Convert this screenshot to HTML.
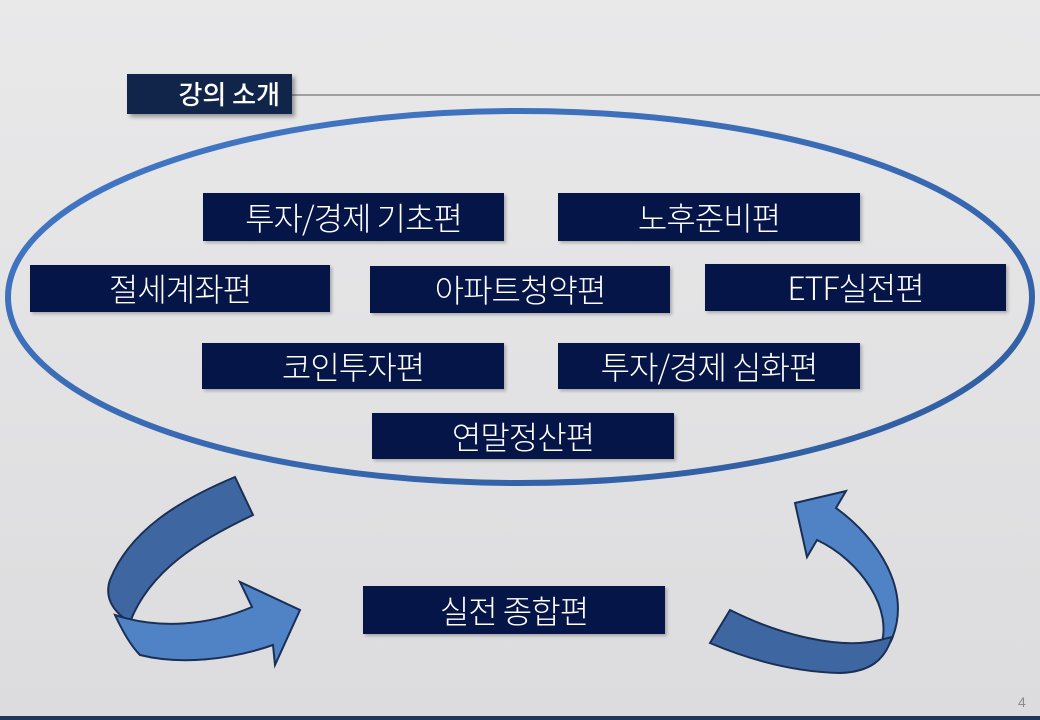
<!DOCTYPE html>
<html><head><meta charset="utf-8"><style>
*{margin:0;padding:0}
body{width:1040px;height:720px;position:relative;overflow:hidden;background:linear-gradient(180deg,#e9e9ea,#dcdcde);font-family:"Liberation Sans","Noto Sans CJK KR",sans-serif}
.b{position:absolute;background:#061548;color:#fff;font-size:32px;font-weight:300;text-align:center;box-shadow:2px 2px 3px rgba(0,0,0,.25);font-family:"Noto Sans CJK KR",sans-serif;letter-spacing:-1px}
.t{position:absolute;left:127px;top:74px;width:165px;height:40px;background:#11254a;color:#fff;font-size:26px;font-weight:500;text-align:right;box-shadow:3px 3px 4px rgba(0,0,0,.35);line-height:40px;font-family:"Noto Sans CJK KR",sans-serif}
</style></head><body>
<div style="position:absolute;left:292px;top:94px;width:748px;height:2px;background:#a0a0a0"></div>
<div class="t"><span style="padding-right:12px">강의 소개</span></div>
<svg width="1040" height="720" style="position:absolute;left:0;top:0">
<defs><linearGradient id="g" x1="0" y1="0" x2="1" y2="1"><stop offset="0" stop-color="#4479c8"/><stop offset="1" stop-color="#2e5b9e"/></linearGradient></defs>
<ellipse cx="520" cy="297" rx="512" ry="186" fill="none" stroke="url(#g)" stroke-width="6"/>
<path d="M235,477 L253,515 C200,540 150,570 130,622 C110,610 105,595 110,580 C130,530 180,500 235,477 Z" fill="#3e67a2" stroke="#1a2f55" stroke-width="2"/>
<path d="M115,615 C160,630 210,625 252,607 L240,582 L300,610 L275,665 L273,645 C230,660 180,665 140,655 C130,645 122,630 115,615 Z" fill="#4f83c6" stroke="#1a2f55" stroke-width="2"/>
<path d="M795,503 L846,491 L836,508 C880,540 910,590 893,636 C890,645 885,650 880,648 C895,610 860,560 817,540 L807,557 Z" fill="#4f83c6" stroke="#1a2f55" stroke-width="2"/>
<path d="M730,610 C780,635 840,650 880,640 L892,637 C885,660 870,672 840,673 C795,672 750,660 710,643 Z" fill="#3e67a2" stroke="#1a2f55" stroke-width="2"/>
</svg>
<div class="b" style="left:203px;top:193px;width:301px;height:48px;line-height:48px">투자/경제 기초편</div>
<div class="b" style="left:558px;top:193px;width:302px;height:48px;line-height:48px">노후준비편</div>
<div class="b" style="left:30px;top:265px;width:300px;height:47px;line-height:47px">절세계좌편</div>
<div class="b" style="left:370px;top:266px;width:300px;height:47px;line-height:47px">아파트청약편</div>
<div class="b" style="left:705px;top:264px;width:301px;height:47px;line-height:47px">ETF실전편</div>
<div class="b" style="left:202px;top:343px;width:302px;height:46px;line-height:46px">코인투자편</div>
<div class="b" style="left:558px;top:343px;width:302px;height:46px;line-height:46px">투자/경제 심화편</div>
<div class="b" style="left:372px;top:413px;width:302px;height:46px;line-height:46px">연말정산편</div>
<div class="b" style="left:363px;top:586px;width:302px;height:48px;line-height:48px">실전 종합편</div>
<div style="position:absolute;left:1018px;top:694px;font-size:14px;color:#8a8a8a">4</div>
<div style="position:absolute;left:0;top:716px;width:1040px;height:4px;background:#1c3660"></div>
</body></html>
